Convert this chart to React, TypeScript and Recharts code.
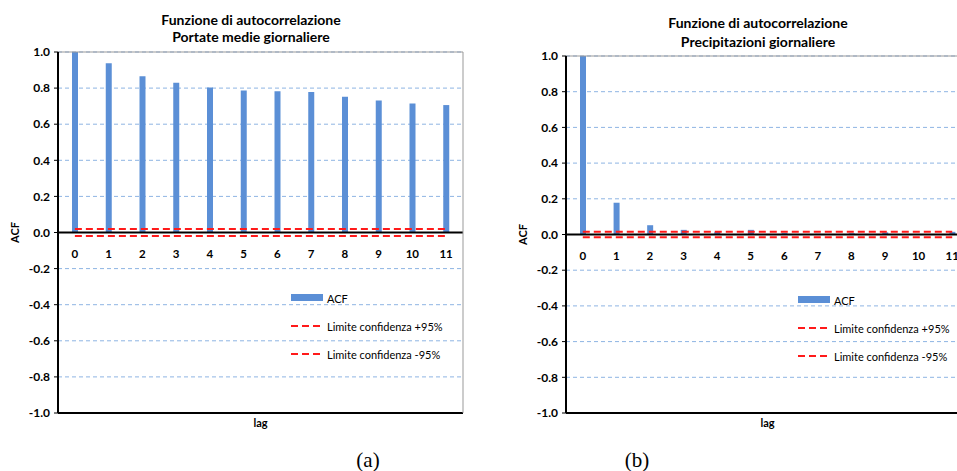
import React from "react";
import { ComposedChart, Bar, Line, XAxis, YAxis, CartesianGrid, ReferenceLine, Legend } from "recharts";

const LAGS = ["0", "1", "2", "3", "4", "5", "6", "7", "8", "9", "10", "11"];
const ACF_PORTATE = [1.0, 0.938, 0.865, 0.83, 0.804, 0.787, 0.783, 0.778, 0.752, 0.731, 0.715, 0.706];
const ACF_PRECIP = [1.0, 0.178, 0.052, 0.026, 0.015, 0.026, 0.008, 0.004, 0.007, 0.012, 0.002, 0.015];
const CONF_UP_PORTATE = [0.02, 0.02, 0.02, 0.02, 0.02, 0.02, 0.02, 0.02, 0.02, 0.02, 0.02, 0.02];
const CONF_LO_PORTATE = [-0.02, -0.02, -0.02, -0.02, -0.02, -0.02, -0.02, -0.02, -0.02, -0.02, -0.02, -0.02];
const CONF_UP_PRECIP = [0.015, 0.015, 0.015, 0.015, 0.015, 0.015, 0.015, 0.015, 0.015, 0.015, 0.015, 0.015];
const CONF_LO_PRECIP = [-0.015, -0.015, -0.015, -0.015, -0.015, -0.015, -0.015, -0.015, -0.015, -0.015, -0.015, -0.015];
const Y_TICKS = [-1, -0.8, -0.6, -0.4, -0.2, 0, 0.2, 0.4, 0.6, 0.8, 1];

const SANS = "Lato, 'Noto Sans', sans-serif";
const BLUE = "#5B8FD6";
const RED = "#FF1A1A";

const buildRows = (acf: number[], up: number[], lo: number[]) =>
  LAGS.map((lag, i) => ({ lag, acf: acf[i], up: up[i], lo: lo[i] }));

function LegendBox({ payload }: any) {
  return (
    <div style={{ fontFamily: SANS, fontSize: 11, color: "#000" }}>
      {(payload || []).map((entry: any) => (
        <div key={entry.value} style={{ display: "flex", alignItems: "center", height: 28 }}>
          <svg width={32} height={8} style={{ marginRight: 4 }}>
            {entry.type === "rect" ? (
              <rect x={0} y={0} width={32} height={7} fill={entry.color} />
            ) : (
              <line x1={0} y1={4} x2={32} y2={4} stroke={entry.color} strokeWidth={2} strokeDasharray="7 4" />
            )}
          </svg>
          <span>{entry.value}</span>
        </div>
      ))}
    </div>
  );
}

type ChartProps = {
  rows: any[];
  width: number;
  top: number;
  axisWidth: number;
  rightMargin: number;
  acfOffset: number;
  legendLeft: number;
  legendTop: number;
};

function AcfChart({ rows, width, top, axisWidth, rightMargin, acfOffset, legendLeft, legendTop }: ChartProps) {
  const plotH = 413 - top;
  const shift = plotH / 2 - 20.5;
  return (
    <ComposedChart width={width} height={471} data={rows} margin={{ top, right: rightMargin, left: 0, bottom: 28 }}>
      <CartesianGrid vertical={false} stroke="#8EB4E3" strokeDasharray="4 3" />
      <XAxis
        dataKey="lag"
        height={30}
        tickLine={false}
        tickSize={0}
        tickMargin={0}
        axisLine={{ stroke: "#000", strokeWidth: 2 }}
        tick={(p: any) => (
          <text x={p.x} y={p.y - shift} textAnchor="middle" dominantBaseline="central" fontFamily={SANS} fontWeight="bold" fontSize={11.5} fill="#000">
            {p.payload.value}
          </text>
        )}
        label={{ value: "lag", position: "insideTop", offset: 6, style: { fontFamily: SANS, fontWeight: "bold", fontSize: 11, fill: "#000" } }}
      />
      <YAxis
        width={axisWidth}
        domain={[-1, 1]}
        ticks={Y_TICKS}
        interval={0}
        tickFormatter={(v: number) => v.toFixed(1)}
        tick={{ fontFamily: SANS, fontWeight: "bold", fontSize: 12, fill: "#000" }}
        tickSize={4}
        tickMargin={4}
        tickLine={{ stroke: "#000" }}
        axisLine={{ stroke: "#000", strokeWidth: 2 }}
        label={{ value: "ACF", angle: -90, position: "insideLeft", offset: acfOffset, style: { fontFamily: SANS, fontWeight: "bold", fontSize: 11, fill: "#000", textAnchor: "middle" } }}
      />
      <YAxis yAxisId="r" orientation="right" width={1} domain={[-1, 1]} tick={false} tickLine={false} axisLine={{ stroke: "#999" }} />
      <ReferenceLine y={1} stroke="#999" />
      <Legend
        layout="vertical"
        wrapperStyle={{ left: legendLeft, top: legendTop, width: 180, height: 0, overflow: "visible" }}
        content={<LegendBox />}
      />
      <Bar dataKey="acf" name="ACF" fill={BLUE} barSize={6} isAnimationActive={false} />
      <ReferenceLine y={0} stroke="#000" strokeWidth={2} />
      <Line dataKey="up" name="Limite confidenza +95%" stroke={RED} strokeWidth={2} strokeDasharray="7 4" dot={false} activeDot={false} isAnimationActive={false} />
      <Line dataKey="lo" name="Limite confidenza -95%" stroke={RED} strokeWidth={2} strokeDasharray="7 4" dot={false} activeDot={false} isAnimationActive={false} />
    </ComposedChart>
  );
}

function Title({ lines, center, y, gap }: { lines: string[]; center: number; y: number; gap: number }) {
  return (
    <div style={{ position: "absolute", left: center - 150, top: y, width: 300, textAlign: "center", fontFamily: SANS, fontWeight: "bold", fontSize: 14, lineHeight: `${gap}px`, color: "#000" }}>
      {lines.map((l) => (
        <div key={l}>{l}</div>
      ))}
    </div>
  );
}

function Caption({ text, center }: { text: string; center: number }) {
  return (
    <div style={{ position: "absolute", left: center - 40, top: 447, width: 80, textAlign: "center", fontFamily: "'Liberation Serif', 'Times New Roman', serif", fontSize: 21, lineHeight: "26px", color: "#000" }}>
      {text}
    </div>
  );
}

export default function App() {
  const rowsA = buildRows(ACF_PORTATE, CONF_UP_PORTATE, CONF_LO_PORTATE);
  const rowsB = buildRows(ACF_PRECIP, CONF_UP_PRECIP, CONF_LO_PRECIP);
  return (
    <div style={{ position: "absolute", left: 0, top: 0, width: 957, height: 471, overflow: "hidden", background: "#fff" }}>
      <div style={{ position: "absolute", left: 0, top: 0 }}>
        <AcfChart rows={rowsA} width={480} top={52} axisWidth={58} rightMargin={16} acfOffset={15} legendLeft={291} legendTop={284} />
      </div>
      <div style={{ position: "absolute", left: 480, top: 0 }}>
        <AcfChart rows={rowsB} width={500} top={56} axisWidth={86} rightMargin={10} acfOffset={43} legendLeft={318} legendTop={286} />
      </div>
      <Title lines={["Funzione di autocorrelazione", "Portate medie giornaliere"]} center={251} y={11} gap={17} />
      <Title lines={["Funzione di autocorrelazione", "Precipitazioni giornaliere"]} center={758} y={13} gap={19} />
      <Caption text="(a)" center={368} />
      <Caption text="(b)" center={637} />
    </div>
  );
}
